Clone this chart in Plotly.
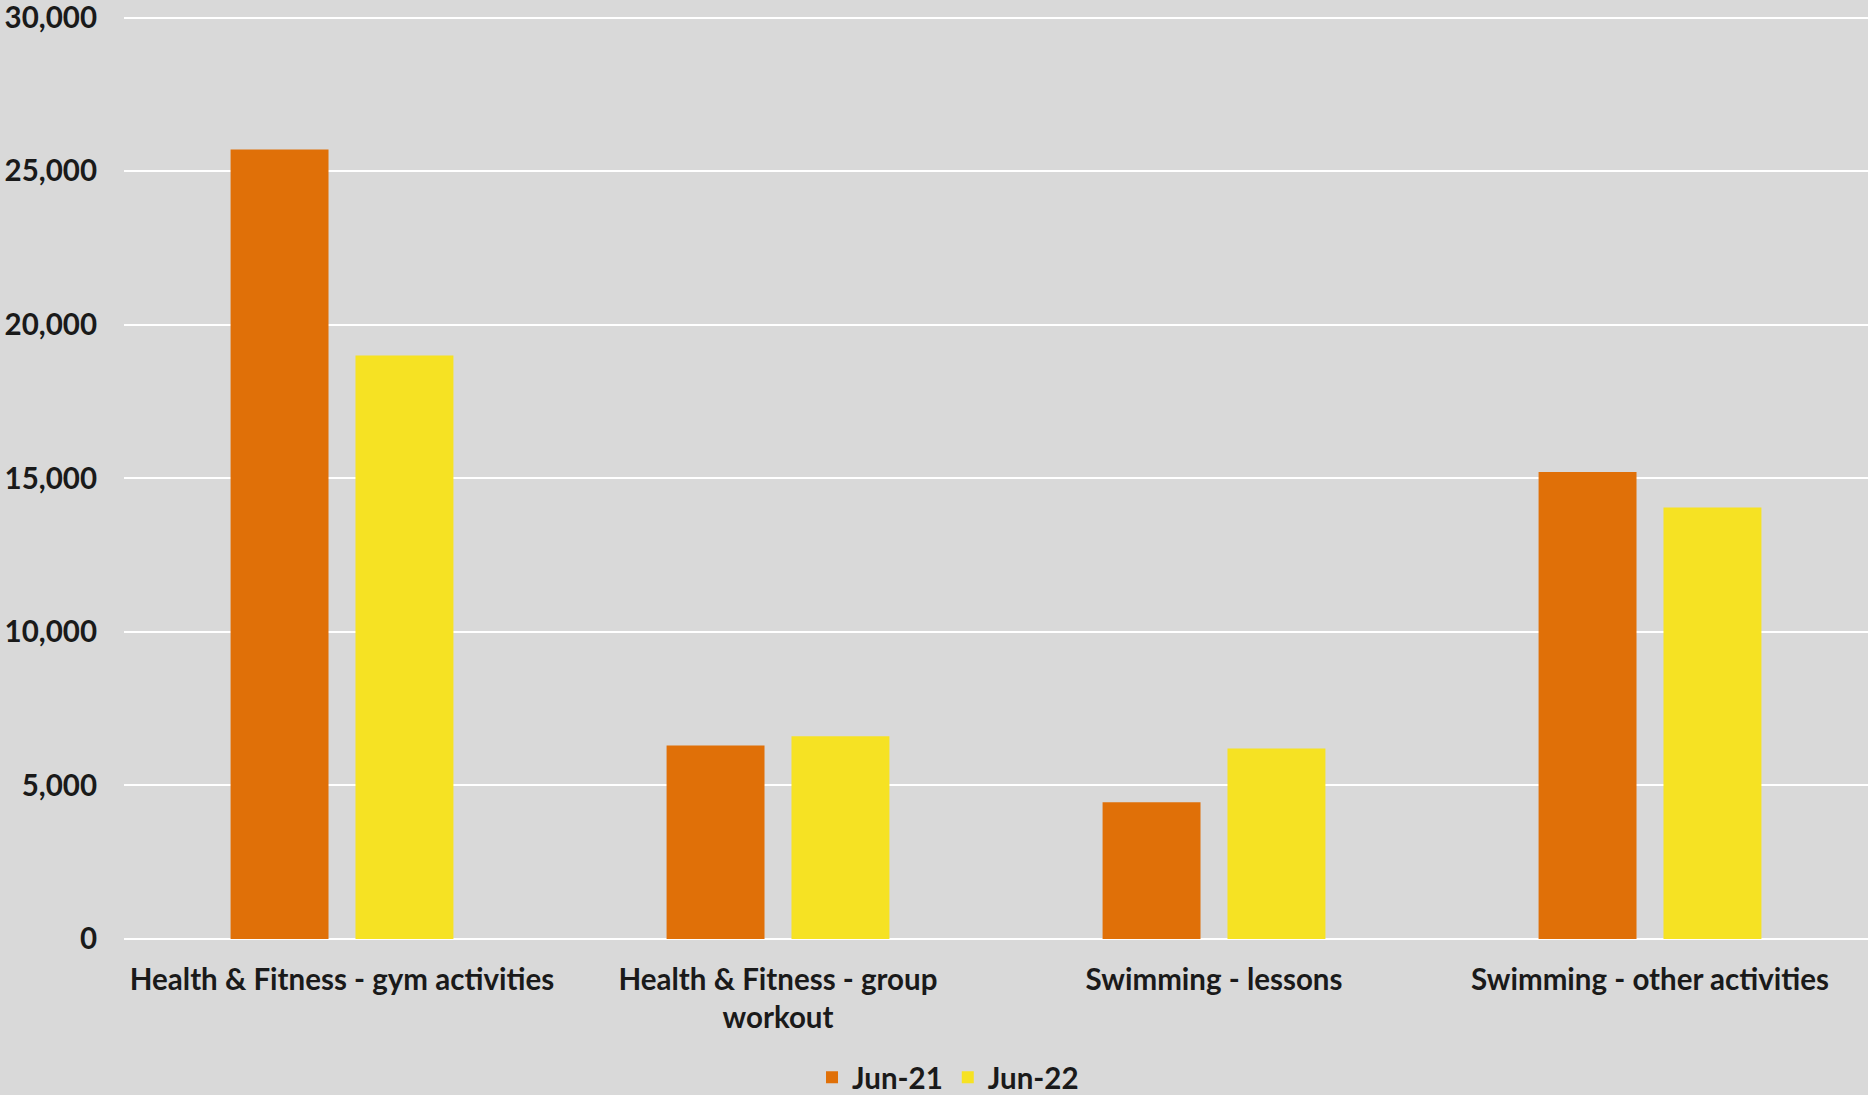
import plotly.graph_objects as go

categories = [
    "Health & Fitness - gym activities",
    "Health & Fitness - group<br>workout",
    "Swimming - lessons",
    "Swimming - other activities",
]
series_names = ["Jun-21", "Jun-22"]
jun21 = [25700, 6300, 4450, 15200]
jun22 = [19000, 6600, 6200, 14050]
colors = ["#E07008", "#F6E223"]

FONT = "Lato, sans-serif"

fig = go.Figure()
for name, vals, col in zip(series_names, [jun21, jun22], colors):
    fig.add_trace(go.Bar(x=categories, y=vals, name=name, marker=dict(color=col, line=dict(width=0))))

fig.update_layout(
    width=1868, height=1095,
    barmode="group", bargap=0.427, bargroupgap=0.216,
    paper_bgcolor="#D9D9D9", plot_bgcolor="#D9D9D9",
    margin=dict(l=124, r=0, t=16, b=155.5, autoexpand=False),
    font=dict(family=FONT, size=29.5, color="#1a1a1a", weight="bold"),
    legend=dict(orientation="h", xref="container", yref="container",
                x=0.5075, y=0.016, xanchor="center", yanchor="middle",
                font=dict(family=FONT, size=29.5, color="#1a1a1a", weight="bold"),
                bgcolor="rgba(0,0,0,0)"),
    showlegend=True,
)
fig.update_yaxes(range=[0, 30050], tickvals=[0, 5000, 10000, 15000, 20000, 25000, 30000],
                 tickformat=",", showgrid=True, ticklabeloverflow="allow", automargin=False,
                 gridcolor="white", gridwidth=2, zeroline=True, zerolinecolor="white",
                 zerolinewidth=2, showline=False, ticks="", ticklabelstandoff=26)
fig.update_xaxes(showline=False, ticks="", showgrid=False, ticklabelstandoff=20, tickangle=0,
                 automargin=False)

fig.write_html("out.html")
